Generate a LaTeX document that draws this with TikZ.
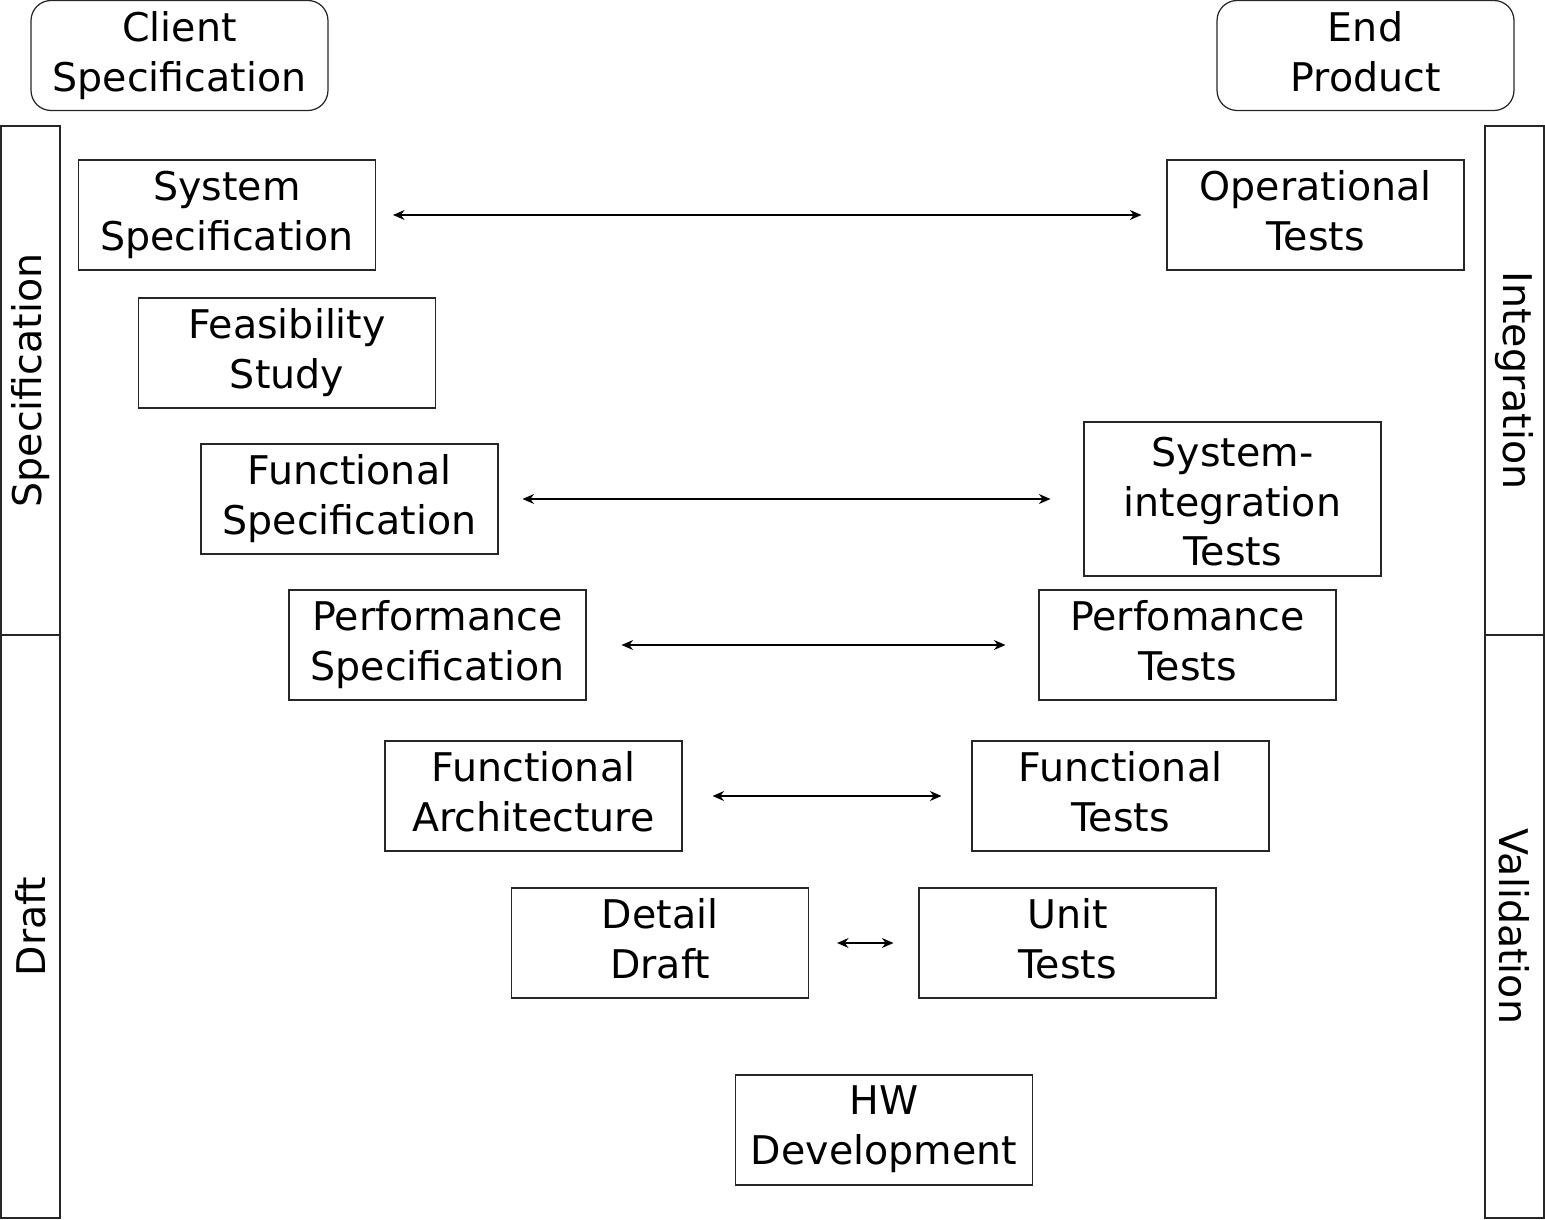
\documentclass[tikz,border=0pt]{standalone}
\usepackage{fontspec}
\setmainfont{DejaVu Sans}
\usetikzlibrary{positioning, arrows.meta}

\newcommand{\linestrut}{\rule[-0.18\baselineskip]{0pt}{0.7\baselineskip}}

\begin{document}
\begin{tikzpicture}[
            x=0.02cm, y=-0.02cm,
            font=\fontsize{22.5}{28.45}\selectfont,
            stage/.style={draw=black!85, line width=0.7pt, rectangle, align=center, inner sep=0pt, minimum width=5.94cm, minimum height=2.2cm, execute at begin node=\linestrut, execute at end node=\linestrut},
            goal/.style={stage, rounded corners=0.4cm},
            lane/.style={draw=black!85, line width=0.7pt, rectangle, inner sep=0pt, minimum height=1.18cm},
            link/.style={{Stealth[length=0.23cm, width=0.2cm]}-{Stealth[length=0.23cm, width=0.2cm]}, line width=0.6pt}
        ]

        \useasboundingbox (0,0) rectangle (1545,1220);

        % ======================================
        % Start and end
        % ======================================
        \node[goal] (client) at (179.5,55.5) {Client\\Specification};
        \node[goal] (product) at (1365.5,55.5) {End\\Product};

        % ======================================
        % Phase lanes
        % ======================================
        \node[lane, rotate=90, minimum width=10.18cm] (specLane) at (30.5,380.5) {Specification};
        \node[lane, rotate=90, minimum width=11.66cm] (draftLane) at (30.5,926.5) {Draft};
        \node[lane, rotate=-90, minimum width=10.18cm] (integLane) at (1514.5,380.5) {Integration};
        \node[lane, rotate=-90, minimum width=11.66cm] (validLane) at (1514.5,926.5) {Validation};

        % ======================================
        % Left branch (design)
        % ======================================
        \node[stage] (sysSpec) at (227,215) {System\\Specification};
        \node[stage] (feasib) at (287,353) {Feasibility\\Study};
        \node[stage] (funcSpec) at (349.5,499) {Functional\\Specification};
        \node[stage] (perfSpec) at (437.5,645) {Performance\\Specification};
        \node[stage] (funcArch) at (533.5,796) {Functional\\Architecture};
        \node[stage] (detail) at (660,943) {Detail\\Draft};

        % bottom
        \node[stage] (hwDev) at (884,1130) {HW\\Development};

        % ======================================
        % Right branch (tests)
        % ======================================
        \node[stage] (opTests) at (1315.5,215) {Operational\\Tests};
        \node[stage, minimum height=3.08cm] (sysInt) at (1232.5,499) {\rule{0pt}{0.86\baselineskip}System-\\integration\\Tests};
        \node[stage] (perfTests) at (1187.5,645) {Perfomance\\Tests};
        \node[stage] (funcTests) at (1120.5,796) {Functional\\Tests};
        \node[stage] (unitTests) at (1067.5,943) {Unit\\Tests};

        % ======================================
        % Matching links
        % ======================================
        \draw[link, shorten <=0.34cm, shorten >=0.5cm] (sysSpec) -- (opTests);
        \draw[link, shorten <=0.48cm, shorten >=0.66cm] (funcSpec) -- (sysInt);
        \draw[link, shorten <=0.7cm, shorten >=0.66cm] (perfSpec) -- (perfTests);
        \draw[link, shorten <=0.6cm, shorten >=0.6cm] (funcArch) -- (funcTests);
        \draw[link, shorten <=0.56cm, shorten >=0.5cm] (detail) -- (unitTests);

    \end{tikzpicture}
\end{document}
